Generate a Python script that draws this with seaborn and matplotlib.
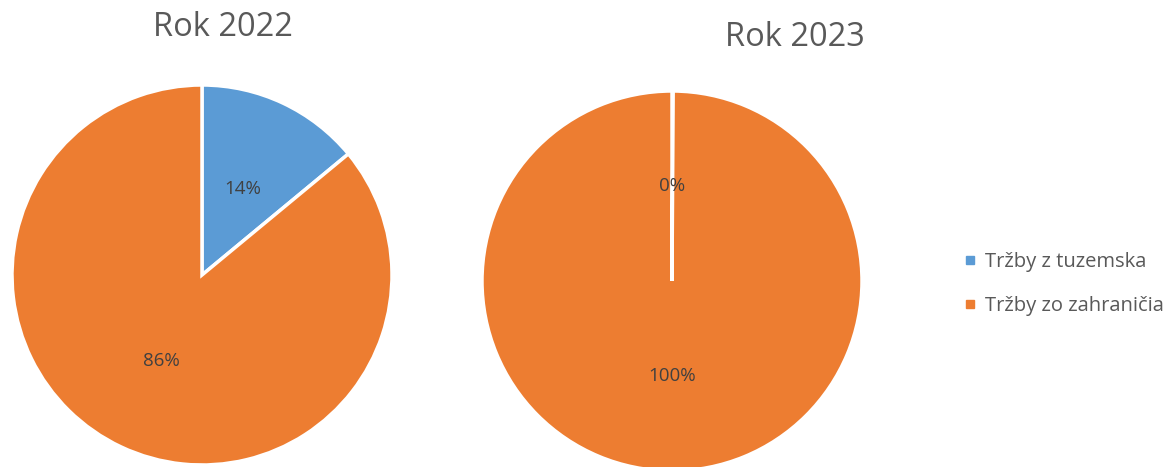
import matplotlib
matplotlib.use("Agg")
import matplotlib.pyplot as plt
from matplotlib.lines import Line2D
import seaborn as sns

# data
years = ["Rok 2022", "Rok 2023"]
categories = ["Tržby z tuzemska", "Tržby zo zahraničia"]
share_2022 = [14, 86]
share_2023 = [0.1, 99.9]  # a hair above zero so the split line shows
colors = ["#5B9BD5", "#ED7D31"]

sns.set_theme(style="white")
plt.rcParams['font.family'] = ['Open Sans', 'DejaVu Sans']

W, H = 1169, 467
fig = plt.figure(figsize=(W / 100, H / 100), dpi=100)


# place an axes by pixel centre and radius
def pie_axes(cx, cy, r):
    return fig.add_axes([(cx - r) / W, (H - cy - r) / H, 2 * r / W, 2 * r / H])


def draw_pie(ax, values):
    wedges, texts, autotexts = ax.pie(
        values, colors=colors, startangle=90, counterclock=False,
        autopct='%1.0f%%', pctdistance=0.5,
        wedgeprops=dict(edgecolor='white', linewidth=2.5),
        textprops=dict(color='#404040', fontsize=13.5))
    ax.set_xlim(-1, 1)
    ax.set_ylim(-1, 1)
    ax.set_aspect('equal')
    ax.axis('off')
    return wedges


ax1 = pie_axes(202, 275, 190)
draw_pie(ax1, share_2022)
ax2 = pie_axes(672, 281, 190)
draw_pie(ax2, share_2023)

fig.text(223 / W, 1 - 28 / H, years[0], ha='center', va='center', fontsize=23.5, color='#595959')
fig.text(795 / W, 1 - 38 / H, years[1], ha='center', va='center', fontsize=23.5, color='#595959')

handles = [Line2D([0], [0], marker='s', linestyle='', markersize=6,
                  markerfacecolor=c, markeredgecolor=c) for c in colors]
fig.legend(handles, categories, loc='center left', bbox_to_anchor=(944 / W, 1 - 284 / H),
           frameon=False, fontsize=14.5, labelcolor='#595959', handlelength=0.8,
           handletextpad=0.35, labelspacing=1.15)

fig.savefig("out.png", dpi=100)
